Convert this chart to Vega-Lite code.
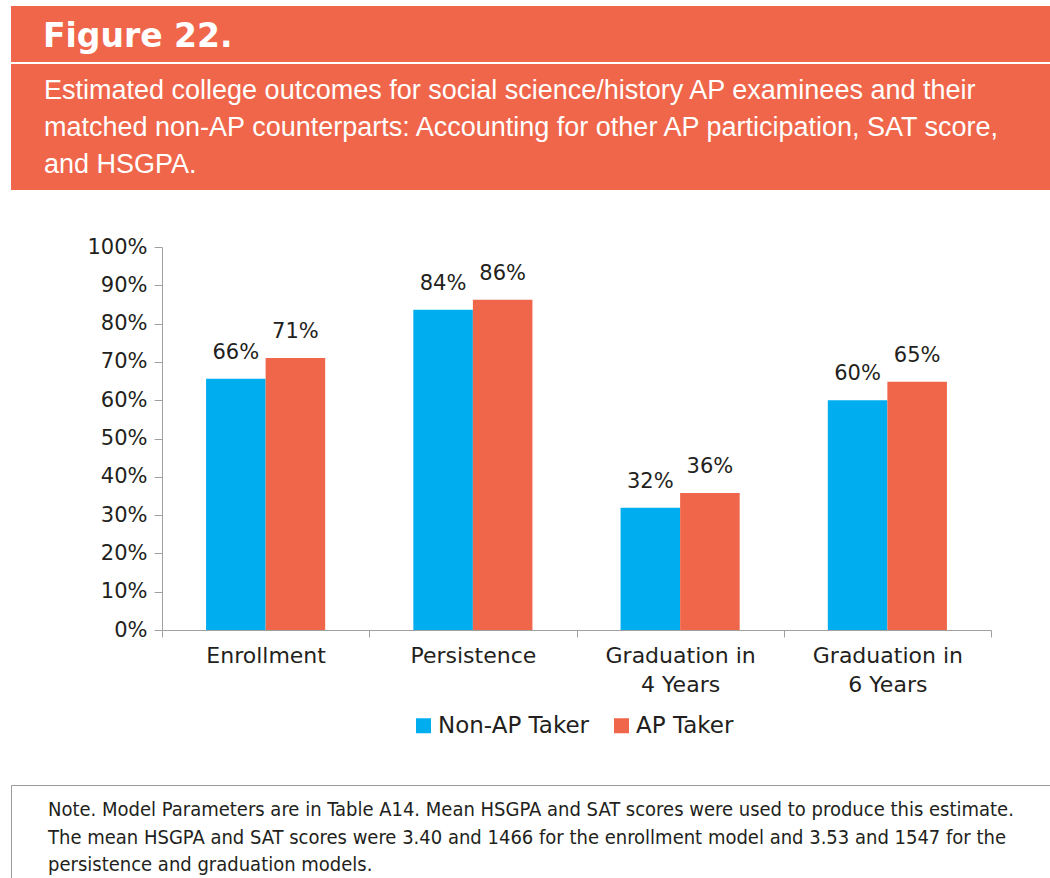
{
  "$schema": "https://vega.github.io/schema/vega-lite/v6.json",
  "background": "white",
  "padding": {"left": 10, "top": 6, "right": 0, "bottom": 0},
  "spacing": 46,
  "config": {"font": "DejaVu Sans", "view": {"stroke": null}},
  "datasets": {
    "figure": [{"label": "Figure 22."}],
    "subtitle": [{"label": "Estimated college outcomes for social science/history AP examinees and their\nmatched non-AP counterparts: Accounting for other AP participation, SAT score,\nand HSGPA."}],
    "outcomes": [
      {"outcome": "Enrollment", "group": "Non-AP Taker", "value": 0.656},
      {"outcome": "Enrollment", "group": "AP Taker", "value": 0.71},
      {"outcome": "Persistence", "group": "Non-AP Taker", "value": 0.836},
      {"outcome": "Persistence", "group": "AP Taker", "value": 0.862},
      {"outcome": "Graduation in 4 Years", "group": "Non-AP Taker", "value": 0.319},
      {"outcome": "Graduation in 4 Years", "group": "AP Taker", "value": 0.358},
      {"outcome": "Graduation in 6 Years", "group": "Non-AP Taker", "value": 0.60},
      {"outcome": "Graduation in 6 Years", "group": "AP Taker", "value": 0.648}
    ],
    "note": [{"label": "Note. Model Parameters are in Table A14. Mean HSGPA and SAT scores were used to produce this estimate.\nThe mean HSGPA and SAT scores were 3.40 and 1466 for the enrollment model and 3.53 and 1547 for the\npersistence and graduation models."}]
  },
  "resolve": {
    "scale": {"x": "independent", "y": "independent", "color": "independent"},
    "legend": {"color": "independent"}
  },
  "vconcat": [
    {
      "spacing": 2,
      "resolve": {"scale": {"x": "independent", "y": "independent"}},
      "vconcat": [
        {
          "width": 1040,
          "height": 56,
          "view": {"fill": "#F0664A", "stroke": null},
          "data": {"name": "figure"},
          "mark": {"type": "text", "align": "left", "baseline": "middle", "font": "DejaVu Sans", "fontWeight": "bold", "fontSize": 33, "color": "white", "dx": 32, "dy": 3},
          "encoding": {
            "x": {"datum": 0, "type": "quantitative", "scale": {"domain": [0, 1]}, "axis": null},
            "text": {"field": "label", "type": "nominal"}
          }
        },
        {
          "width": 1040,
          "height": 126,
          "view": {"fill": "#F0664A", "stroke": null},
          "data": {"name": "subtitle"},
          "mark": {"type": "text", "align": "left", "baseline": "alphabetic", "lineBreak": "\n", "lineHeight": 37, "font": "Liberation Sans", "fontSize": 27, "color": "white", "dx": 33, "dy": -28},
          "encoding": {
            "x": {"datum": 0, "type": "quantitative", "scale": {"domain": [0, 1]}, "axis": null},
            "text": {"field": "label", "type": "nominal"}
          }
        }
      ]
    },
    {
      "spacing": 70,
      "resolve": {"scale": {"x": "independent", "y": "independent", "color": "independent"}, "legend": {"color": "independent"}},
      "hconcat": [
        {
          "width": 1,
          "height": 1,
          "view": {"fill": null, "stroke": null},
          "data": {"values": []},
          "mark": {"type": "point"}
        },
        {
          "width": 829,
          "height": 383,
          "view": {"stroke": null},
          "data": {"name": "outcomes"},
          "encoding": {
            "x": {
              "field": "outcome", "type": "nominal",
              "sort": ["Enrollment", "Persistence", "Graduation in 4 Years", "Graduation in 6 Years"],
              "scale": {"paddingInner": 0, "paddingOuter": 0},
              "axis": {
                "title": null, "labelAngle": 0, "labelFontSize": 22, "labelColor": "#231f20",
                "labelPadding": 8, "tickSize": 7, "tickBand": "extent",
                "domainColor": "#a0a0a0", "tickColor": "#a0a0a0",
                "labelExpr": "split(replace(datum.label, ' in ', ' in|'), '|')",
                "labelLineHeight": 29
              }
            },
            "xOffset": {
              "field": "group", "type": "nominal", "sort": ["Non-AP Taker", "AP Taker"],
              "scale": {"paddingInner": 0, "paddingOuter": 0.74}
            },
            "y": {
              "field": "value", "type": "quantitative",
              "scale": {"domain": [0, 1]},
              "axis": {
                "title": null, "values": [0, 0.1, 0.2, 0.3, 0.4, 0.5, 0.6, 0.7, 0.8, 0.9, 1],
                "format": ".0%", "grid": false, "labelFontSize": 21, "labelColor": "#231f20",
                "tickSize": 8, "labelPadding": 7, "minExtent": 80,
                "domainColor": "#a0a0a0", "tickColor": "#a0a0a0"
              }
            }
          },
          "layer": [
            {
              "mark": {"type": "bar"},
              "encoding": {
                "color": {
                  "field": "group", "type": "nominal",
                  "scale": {"domain": ["Non-AP Taker", "AP Taker"], "range": ["#00AEEF", "#F0664A"]},
                  "legend": {
                    "title": null, "orient": "none", "legendX": 250, "legendY": 467, "direction": "horizontal",
                    "symbolType": "square", "symbolSize": 225, "symbolStrokeWidth": 0,
                    "labelFontSize": 23, "labelColor": "#231f20", "labelOffset": 3,
                    "columnPadding": 20
                  }
                }
              }
            },
            {
              "mark": {"type": "text", "baseline": "alphabetic", "dy": -20, "fontSize": 21, "color": "#231f20"},
              "encoding": {
                "text": {"field": "value", "type": "quantitative", "format": ".0%"}
              }
            }
          ]
        }
      ]
    },
    {
      "width": 1039,
      "height": 93,
      "view": {"fill": null, "stroke": "#9a9a9a"},
      "data": {"name": "note"},
      "mark": {"type": "text", "align": "left", "baseline": "alphabetic", "lineBreak": "\n", "lineHeight": 27.5, "font": "DejaVu Sans Condensed", "fontSize": 20, "color": "#231f20", "dx": 37, "dy": -15.5},
      "encoding": {
        "x": {"datum": 0, "type": "quantitative", "scale": {"domain": [0, 1]}, "axis": null},
        "text": {"field": "label", "type": "nominal"}
      }
    }
  ]
}
